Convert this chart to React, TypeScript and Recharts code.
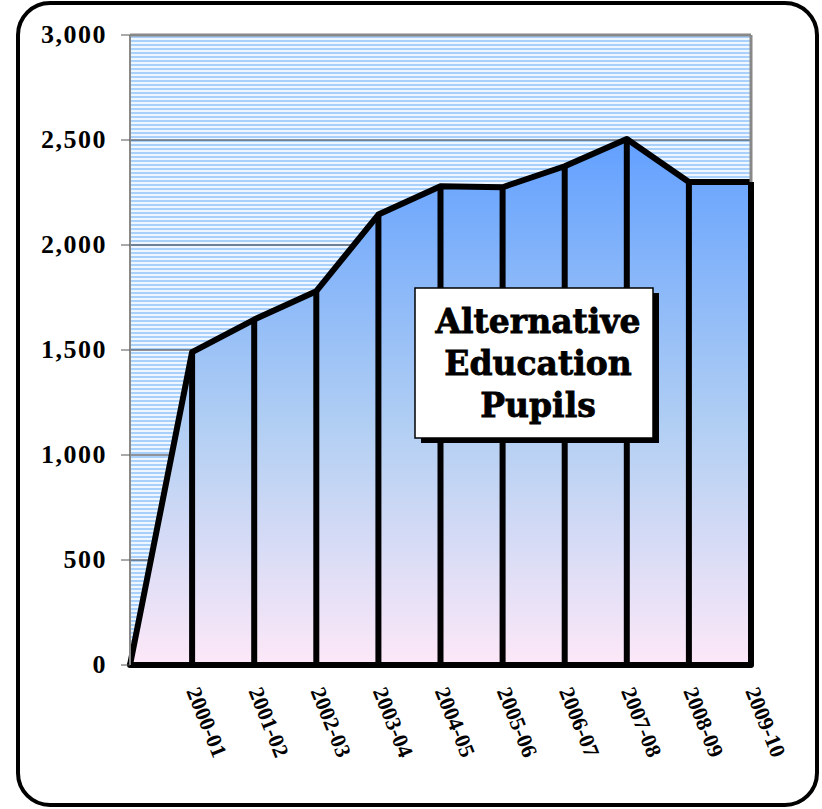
import React from "react";
import {
  AreaChart,
  Area,
  XAxis,
  YAxis,
  CartesianGrid,
  ReferenceLine,
} from "recharts";

const years = [
  "",
  "2000-01",
  "2001-02",
  "2002-03",
  "2003-04",
  "2004-05",
  "2005-06",
  "2006-07",
  "2007-08",
  "2008-09",
  "2009-10",
];
const pupils = [0, 1490, 1645, 1780, 2145, 2280, 2275, 2375, 2505, 2300, 2300];
const yTicks = [0, 500, 1000, 1500, 2000, 2500, 3000];
const titleLines = ["Alternative", "Education", "Pupils"];

const data = years.map((year, i) => ({ year, pupils: pupils[i] }));

const W = 822;
const H = 809;
const SERIF = "Liberation Serif, Times New Roman, serif";

const XTick = (props: any) => {
  const { x, y, payload } = props;
  if (!payload.value) return null;
  const tx = x - 6;
  const ty = y + 18;
  return (
    <text
      x={tx}
      y={ty}
      transform={`rotate(68, ${tx}, ${ty})`}
      textAnchor="start"
      style={{ fontFamily: SERIF, fontWeight: "bold", fontSize: 22 }}
      fill="#000"
    >
      {payload.value}
    </text>
  );
};

const YTick = (props: any) => {
  const { x, y, payload } = props;
  return (
    <text
      x={x}
      y={y}
      dy={8}
      textAnchor="end"
      style={{ fontFamily: SERIF, fontWeight: "bold", fontSize: 26, letterSpacing: 1.5 }}
      fill="#000"
    >
      {payload.value.toLocaleString("en-US")}
    </text>
  );
};

export default function App() {
  return (
    <div style={{ position: "absolute", left: 0, top: 0, width: W, height: H, background: "#fff" }}>
      <AreaChart
        width={W}
        height={H}
        data={data}
        margin={{ top: 35, right: 71, bottom: 44, left: 20 }}
      >
        <defs>
          <pattern id="stripes" width="8" height="4" patternUnits="userSpaceOnUse">
            <rect x="0" y="0" width="8" height="4" fill="#eef6ff" />
            <rect x="0" y="0" width="8" height="2" fill="#a9d0fb" />
          </pattern>
          <linearGradient id="areaFill" x1="0" y1="0" x2="0" y2="1">
            <stop offset="0%" stopColor="#62a0ff" />
            <stop offset="55%" stopColor="#b2cff3" />
            <stop offset="100%" stopColor="#fde8f8" />
          </linearGradient>
        </defs>
        <CartesianGrid vertical={false} fill="url(#stripes)" stroke="#333" strokeWidth={1} />
        <XAxis
          dataKey="year"
          height={100}
          axisLine={false}
          tickLine={false}
          tick={<XTick />}
          interval={0}
        />
        <YAxis
          width={110}
          domain={[0, 3000]}
          ticks={yTicks}
          interval={0}
          axisLine={{ stroke: "#888", strokeWidth: 2 }}
          tickLine={{ stroke: "#555" }}
          tickSize={9}
          tick={<YTick />}
          tickMargin={14}
        />
        <ReferenceLine y={3000} stroke="#888" strokeWidth={3} />
        <ReferenceLine x="2009-10" stroke="#888" strokeWidth={3} />
        <Area
          type="linear"
          dataKey="pupils"
          stroke="#000"
          strokeWidth={6}
          strokeLinejoin="round"
          fill="url(#areaFill)"
          fillOpacity={1}
          isAnimationActive={false}
          dot={false}
          activeDot={false}
        />
        {data.slice(1).map((d) => (
          <ReferenceLine
            key={d.year}
            segment={[
              { x: d.year, y: 0 },
              { x: d.year, y: d.pupils },
            ]}
            stroke="#000"
            strokeWidth={6}
          />
        ))}
        <ReferenceLine y={0} stroke="#000" strokeWidth={6} strokeLinecap="round" />
      </AreaChart>

      {/* outer rounded frame and title box */}
      <svg
        width={W}
        height={H}
        style={{ position: "absolute", left: 0, top: 0, pointerEvents: "none" }}
      >
        <rect x={18} y={3} width={799} height={802} rx={32} ry={32} fill="none" stroke="#000" strokeWidth={4} />
        <rect x={421} y={293} width={238} height={150} fill="#000" />
        <rect x={415} y={288} width={238} height={150} fill="#fff" stroke="#000" strokeWidth={1.5} />
        {titleLines.map((t, i) => (
          <text
            key={t}
            x={538}
            y={333 + i * 42}
            textAnchor="middle"
            style={{ fontFamily: "DejaVu Serif, serif", fontWeight: "bold", fontSize: 33 }}
            stroke="#000"
            strokeWidth={0.8}
            fill="#000"
          >
            {t}
          </text>
        ))}
      </svg>
    </div>
  );
}
